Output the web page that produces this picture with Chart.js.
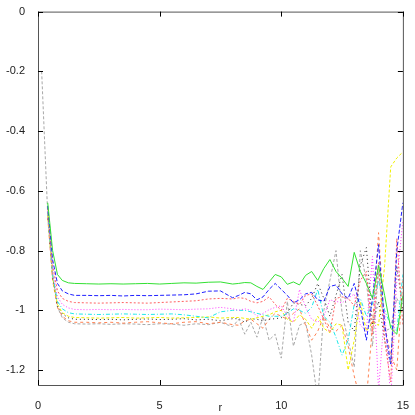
<!DOCTYPE html>
<html>
<head>
<meta charset="utf-8">
<script src="https://cdn.jsdelivr.net/npm/chart.js@4/dist/chart.umd.min.js"></script>
<style>
  html, body { margin: 0; padding: 0; background: #fff; }
  #box { width: 415px; height: 415px; }
</style>
</head>
<body>
<div id="box"><canvas id="myChart"></canvas></div>
<script>
// r values where the curves were sampled
const r = [0.15, 0.4, 0.6, 0.8, 1, 1.25, 1.5,
  2, 2.5, 3, 3.5, 4, 4.5, 5, 5.5, 6, 6.5, 7, 7.5, 8,
  8.25, 8.5, 8.75, 9, 9.25, 9.5, 9.75, 10, 10.25, 10.5, 10.75, 11,
  11.25, 11.5, 11.75, 12, 12.25, 12.5, 12.75, 13, 13.25, 13.5, 13.75, 14,
  14.25, 14.5, 14.75, 15];

const xTicks = [0, 5, 10, 15];
const yTicks = [0, -0.2, -0.4, -0.6, -0.8, -1, -1.2];

// one array per curve
const green = [null, -0.64, -0.8, -0.88, -0.9, -0.908, -0.91,
  -0.911, -0.912, -0.911, -0.912, -0.911, -0.91, -0.912, -0.91, -0.908, -0.909, -0.906, -0.905, -0.912,
  -0.91, -0.907, -0.908, -0.92, -0.93, -0.905, -0.88, -0.888,
  -0.913, -0.905, -0.915, -0.883, -0.87, -0.9, -0.86, -0.83,
  -0.87, -0.893, -0.92, -0.806, -0.87, -0.91, -0.96, -0.85,
  -0.95, -1.06, -1.08, -0.95];
const blue = [null, -0.65, -0.83, -0.91, -0.935, -0.945, -0.95,
  -0.95, -0.951, -0.95, -0.952, -0.95, -0.951, -0.95, -0.949, -0.948, -0.945, -0.936, -0.935, -0.958,
  -0.95, -0.94, -0.945, -0.965, -0.955, -0.93, -0.91, -0.93,
  -0.95, -0.975, -0.965, -0.945, -0.94, -0.965, -0.97, -0.92,
  -0.915, -0.945, -0.96, -0.91, -0.99, -1.1, -0.96, -0.78,
  -1.05, -1.18, -0.8, -0.64];
const red = [null, -0.66, -0.85, -0.935, -0.96, -0.97, -0.974,
  -0.975, -0.976, -0.975, -0.974, -0.975, -0.976, -0.974, -0.972, -0.97, -0.968, -0.962, -0.96, -0.962,
  -0.958, -0.96, -0.97, -0.975, -0.97, -0.955, -0.98, -1.0,
  -0.96, -0.97, -0.98, -0.95, -0.945, -0.985, -1.03, -1.075,
  -0.96, -0.955, -0.96, -0.985, -0.9, -0.87, -1.08, -0.84,
  -1.1, -1.24, -0.76, -1.05];
const magenta = [null, -0.67, -0.87, -0.955, -0.98, -0.992, -0.997,
  -0.998, -0.997, -0.998, -0.997, -0.998, -0.998, -0.996, -0.997, -0.998, -0.996, -0.995, -0.99, -0.995,
  -1.0, -0.995, -1.0, -1.02, -1.01, -0.998, -0.99, -0.985,
  -1.02, -1.04, -0.93, -0.99, -1.03, -1.04, -1.02, -0.965,
  -0.97, -0.975, -0.96, -0.945, -1.05, -1.07, -0.82, -1.27,
  -1.0, -1.3, -0.9, -0.7];
const cyan = [null, -0.67, -0.88, -0.97, -0.995, -1.008, -1.012,
  -1.013, -1.014, -1.013, -1.012, -1.013, -1.014, -1.013, -1.012, -1.015, -1.02, -1.025, -1.005, -1.0,
  -1.0, -1.0, -1.005, -1.01, -1.015, -1.02, -1.02, -1.02,
  -1.01, -0.995, -1.0, -1.01, -0.99, -0.93, -1.02, -1.04,
  -1.09, -1.15, -1.1, -0.98, -0.96, -1.02, -0.98, -0.9,
  -1.0, -1.05, -1.07, -0.88];
const yellow = [null, -0.68, -0.89, -0.98, -1.008, -1.02, -1.024,
  -1.025, -1.026, -1.025, -1.024, -1.026, -1.025, -1.024, -1.026, -1.025, -1.024, -1.022, -1.026, -1.024,
  -1.024, -1.027, -1.03, -1.025, -1.02, -1.015, -1.005, -1.0,
  -1.03, -1.04, -1.015, -1.03, -1.06, -1.02, -1.06, -1.075,
  -1.045, -1.05, -1.2, -1.1, -0.97, -1.07, -1.04, -1.05,
  -0.85, -0.52, -0.49, -0.47];
const black = [null, -0.68, -0.89, -0.985, -1.012, -1.025, -1.03,
  -1.03, -1.031, -1.03, -1.032, -1.03, -1.029, -1.031, -1.03, -1.028, -1.032, -1.03, -1.035, -1.028,
  -1.028, -1.04, -1.028, -1.03, -1.035, -1.03, -1.028, -1.025,
  -1.01, -0.975, -0.98, -0.985, -0.96, -0.91, -0.96, -1.02,
  -0.95, -0.88, -1.04, -1.07, -0.85, -0.79, -1.05, -0.97,
  -1.1, -1.18, -0.85, -1.0];
const coral = [null, -0.69, -0.9, -0.99, -1.02, -1.035, -1.04,
  -1.04, -1.042, -1.04, -1.043, -1.04, -1.038, -1.042, -1.045, -1.04, -1.038, -1.045, -1.04, -1.048,
  -1.05, -1.035, -1.03, -1.045, -1.06, -1.03, -1.01, -1.02,
  -1.03, -1.01, -0.995, -1.05, -1.1, -1.07, -1.02, -1.06,
  -1.07, -1.05, -1.12, -1.22, -1.3, -1.3, -1.05, -0.74,
  -1.05, -1.15, -1.2, -0.9];
const grey = [-0.2, -0.68, -0.88, -0.99, -1.025, -1.04, -1.045,
  -1.046, -1.045, -1.047, -1.045, -1.046, -1.048, -1.045, -1.046, -1.05, -1.045, -1.048, -1.04, -1.055,
  -1.03, -1.08, -1.04, -1.09, -1.02, -1.1, -1.08, -1.16,
  -0.97, -1.12, -1.05, -1.04, -1.15, -1.3, -1.0, -0.9,
  -0.8, -1.01, -1.1, -1.19, -0.8, -0.9, -1.12, -0.87,
  -1.07, -1.06, -0.96, -1.0];

const series = [
  { data: green,   color: "#33e033", dash: [] },
  { data: blue,    color: "#2020ff", dash: [4, 2] },
  { data: red,     color: "#ff6060", dash: [2, 2] },
  { data: magenta, color: "#ff40ff", dash: [1, 2] },
  { data: cyan,    color: "#20e8e8", dash: [4, 2, 1, 2] },
  { data: yellow,  color: "#f0f000", dash: [3, 2] },
  { data: black,   color: "#202020", dash: [1, 3] },
  { data: coral,   color: "#ff8050", dash: [3, 3] },
  { data: grey,    color: "#a8a8a8", dash: [3, 2] }
];

const datasets = series.map(s => ({
  data: r.map((x, i) => ({ x: x, y: s.data[i] })),
  borderColor: s.color,
  borderDash: s.dash,
  borderWidth: 1,
  pointRadius: 0,
  tension: 0,
  fill: false
}));

// frame + inward tick marks on all four sides, like gnuplot
const framePlugin = {
  id: "frame",
  afterDatasetsDraw(chart) {
    const ctx = chart.ctx;
    const a = chart.chartArea;
    const xs = chart.scales.x, ys = chart.scales.y;
    ctx.save();
    ctx.strokeStyle = "#555";
    ctx.lineWidth = 1;
    ctx.strokeRect(a.left + 0.5, a.top + 0.5, a.right - a.left, a.bottom - a.top);
    ctx.strokeStyle = "#000";
    ctx.beginPath();
    for (const v of xTicks) {
      const px = Math.round(xs.getPixelForValue(v)) + 0.5;
      ctx.moveTo(px, a.bottom); ctx.lineTo(px, a.bottom - 5);
      ctx.moveTo(px, a.top); ctx.lineTo(px, a.top + 5);
    }
    for (const v of yTicks) {
      const py = Math.round(ys.getPixelForValue(v)) + 0.5;
      ctx.moveTo(a.left, py); ctx.lineTo(a.left + 5, py);
      ctx.moveTo(a.right, py); ctx.lineTo(a.right - 5, py);
    }
    ctx.stroke();
    ctx.restore();
  }
};

const tickFont = { family: "'Liberation Sans Narrow', 'Liberation Sans', sans-serif", size: 11 };

const myChart = new Chart("myChart", {
  type: "line",
  data: { datasets: datasets },
  plugins: [framePlugin],
  options: {
    responsive: true,
    maintainAspectRatio: false,
    animation: false,
    layout: { padding: { top: 5, right: 12, bottom: 0, left: 0 } },
    plugins: { legend: { display: false }, tooltip: { enabled: false } },
    scales: {
      x: {
        type: "linear",
        min: 0,
        max: 15,
        afterBuildTicks: s => { s.ticks = xTicks.map(v => ({ value: v })); },
        afterFit: s => { s.height = 30; },
        grid: { display: false },
        border: { display: false },
        ticks: { color: "#222", font: tickFont, padding: 6, maxRotation: 0,
                 callback: v => String(v) },
        title: { display: true, text: "r", color: "#222", font: tickFont,
                 padding: { top: 0, bottom: 0 } }
      },
      y: {
        min: -1.25,
        max: 0,
        afterBuildTicks: s => { s.ticks = yTicks.map(v => ({ value: v })); },
        afterFit: s => { s.width = 38; },
        grid: { display: false },
        border: { display: false },
        ticks: { color: "#222", font: tickFont, padding: 5,
                 callback: v => String(Math.round(v * 10) / 10) }
      }
    }
  }
});
</script>
</body>
</html>
